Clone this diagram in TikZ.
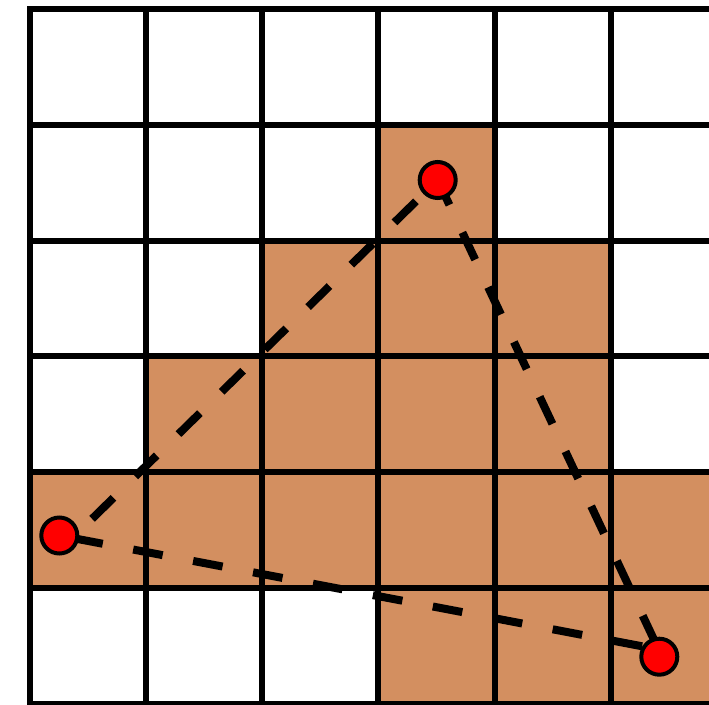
\documentclass[tikz,border=0pt]{standalone}
\definecolor{cellfill}{RGB}{211,143,96}
\definecolor{ptred}{RGB}{255,0,0}
\tikzset{
  gridline/.style={line width=6pt, black, line cap=rect},
  cellbox/.style={fill=cellfill},
  dashline/.style={line width=8pt, black},
  vertex/.style={circle, fill=ptred, draw=black, line width=4pt, minimum size=36pt, inner sep=0pt}
}
\begin{document}
\begin{tikzpicture}[x=1pt,y=-1pt]
\useasboundingbox (0,0) rectangle (709,704);
\clip (0,0) rectangle (709,704);
\def\cx{116.3}\def\cy{115.8}\def\ox{29.5}\def\oy{9}
% filled cells
\foreach \c/\r in {3/1,2/2,3/2,4/2,1/3,2/3,3/3,4/3,0/4,1/4,2/4,3/4,4/4,5/4,3/5,4/5,5/5}
  \fill[cellbox] ({\ox+\c*\cx},{\oy+\r*\cy}) rectangle ++(\cx,\cy);
% grid
\foreach \i in {0,...,6} {
  \draw[gridline] ({\ox+\i*\cx},\oy) -- ({\ox+\i*\cx},{\oy+6*\cy});
  \draw[gridline] (\ox,{\oy+\i*\cy}) -- ({\ox+6*\cx},{\oy+\i*\cy});
}
% vertex positions and line ends
\coordinate (A) at (437.7,180);
\coordinate (B) at (59.3,535.5);
\coordinate (C) at (659.3,656.7);
\coordinate (ABend) at (68.5,541.9);
\coordinate (BCend) at (659.6,649.6);
\coordinate (ACend) at (661.2,655);
% dashed triangle
\draw[dashline, dash pattern=on 30pt off 30.5pt, dash phase=30pt] (A) -- (ABend);
\draw[dashline, dash pattern=on 30pt off 30.5pt, dash phase=2.5pt] (A) -- (ACend);
\draw[dashline, dash pattern=on 30pt off 31pt, dash phase=46.8pt] (B) -- (BCend);
% vertices
\node[vertex] (P1) at (A) {};
\node[vertex] (P2) at (B) {};
\node[vertex] (P3) at (C) {};
\end{tikzpicture}
\end{document}
